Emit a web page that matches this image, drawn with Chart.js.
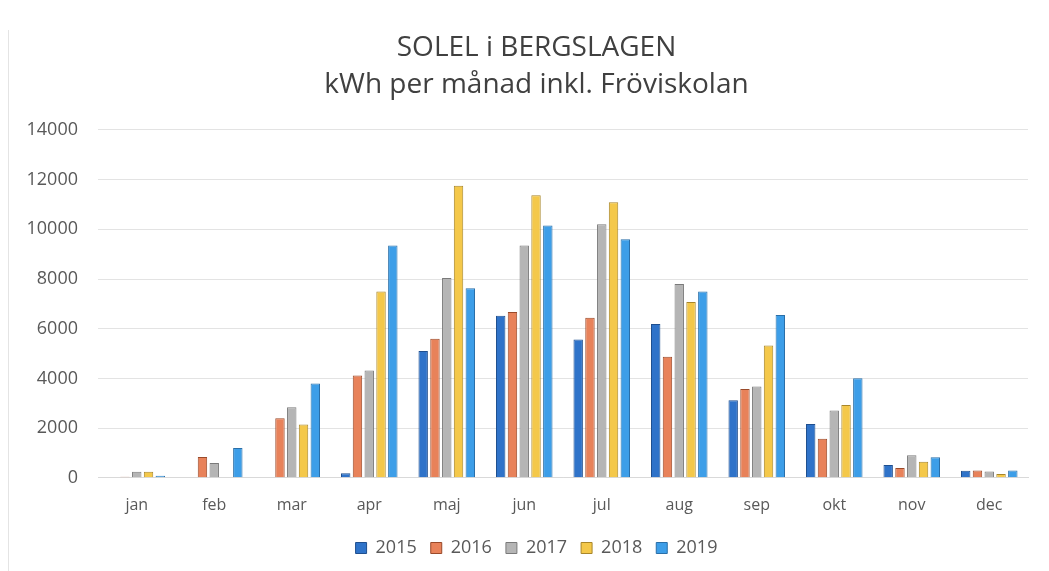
<!DOCTYPE html>
<html>
<head>
<meta charset="utf-8">
<script src="https://cdn.jsdelivr.net/npm/chart.js@4"></script>
<style>
    html, body { margin: 0; padding: 0; background: #fff; }
    #wrap { position: relative; width: 1049px; height: 571px; }
    #frame { position: absolute; left: 8px; top: 30px; width: 1px; height: 541px; background: #e4e4e4; }
</style>
</head>
<body>
<div id="wrap">
    <div id="frame"></div>
    <canvas id="solel" width="1049" height="571"></canvas>
</div>
<script>
    // months and kWh per year
    var months = ["jan", "feb", "mar", "apr", "maj", "jun", "jul", "aug", "sep", "okt", "nov", "dec"];
    var years = ["2015", "2016", "2017", "2018", "2019"];
    var kwh2015 = [0, 0, 0, 180, 5100, 6520, 5570, 6190, 3120, 2170, 520, 280];
    var kwh2016 = [40, 840, 2400, 4120, 5600, 6670, 6440, 4870, 3570, 1570, 390, 290];
    var kwh2017 = [240, 600, 2840, 4320, 8040, 9350, 10200, 7800, 3670, 2710, 910, 250];
    var kwh2018 = [240, 0, 2150, 7500, 11750, 11370, 11090, 7070, 5320, 2930, 650, 150];
    var kwh2019 = [80, 1200, 3800, 9350, 7630, 10150, 9600, 7500, 6550, 4010, 830, 290];
    var yTicks = [0, 2000, 4000, 6000, 8000, 10000, 12000, 14000];

    var fills = ['#2f73c9', '#e8825a', '#b5b5b5', '#f4c84a', '#3d9ee8'];
    var edges = ['#1f4f8f', '#9a4a2a', '#7a7a7a', '#a8862a', '#2a6fa8'];
    var series = [kwh2015, kwh2016, kwh2017, kwh2018, kwh2019];

    var font = "'Open Sans', sans-serif";

    var sets = years.map(function(y, i) {
        return {
            label: y,
            data: series[i],
            backgroundColor: fills[i],
            borderColor: edges[i],
            borderWidth: 1,
            categoryPercentage: 0.76,
            barPercentage: 0.8
        };
    });

    var ctx = document.getElementById("solel");
    new Chart(ctx, {
        type: 'bar',
        data: {
            labels: months,
            datasets: sets
        },
        options: {
            responsive: false,
            animation: false,
            layout: {
                padding: { left: 25, right: 1, top: 16, bottom: 4 }
            },
            plugins: {
                title: {
                    display: true,
                    text: ["SOLEL i BERGSLAGEN", "kWh per månad inkl. Fröviskolan"],
                    color: '#404040',
                    font: { family: font, size: 28, weight: 'normal', lineHeight: 1.32 },
                    padding: { top: 14, bottom: 26 }
                },
                legend: {
                    position: 'bottom',
                    labels: {
                        color: '#595959',
                        font: { family: font, size: 18 },
                        boxWidth: 11,
                        boxHeight: 11,
                        padding: 14
                    }
                },
                tooltip: { enabled: false }
            },
            scales: {
                x: {
                    grid: { display: false },
                    border: { color: '#d9d9d9' },
                    ticks: {
                        color: '#595959',
                        font: { family: font, size: 16 },
                        padding: 10
                    }
                },
                y: {
                    min: 0,
                    max: 14000,
                    afterBuildTicks: function(axis) {
                        axis.ticks = yTicks.map(function(v) { return { value: v }; });
                    },
                    // only label width + one padding, not padding on both sides
                    afterFit: function(axis) {
                        axis.width = 73;
                    },
                    grid: { color: '#e3e3e3', drawTicks: false },
                    border: { display: false },
                    ticks: {
                        color: '#595959',
                        font: { family: font, size: 18 },
                        padding: 20,
                        callback: function(v) { return String(v); }
                    }
                },
                // empty strip on the right so title and legend sit a bit right of centre
                yRight: {
                    position: 'right',
                    grid: { display: false },
                    border: { display: false },
                    ticks: { display: false },
                    afterFit: function(axis) {
                        axis.width = 20;
                    }
                }
            }
        }
    });
</script>
</body>
</html>
